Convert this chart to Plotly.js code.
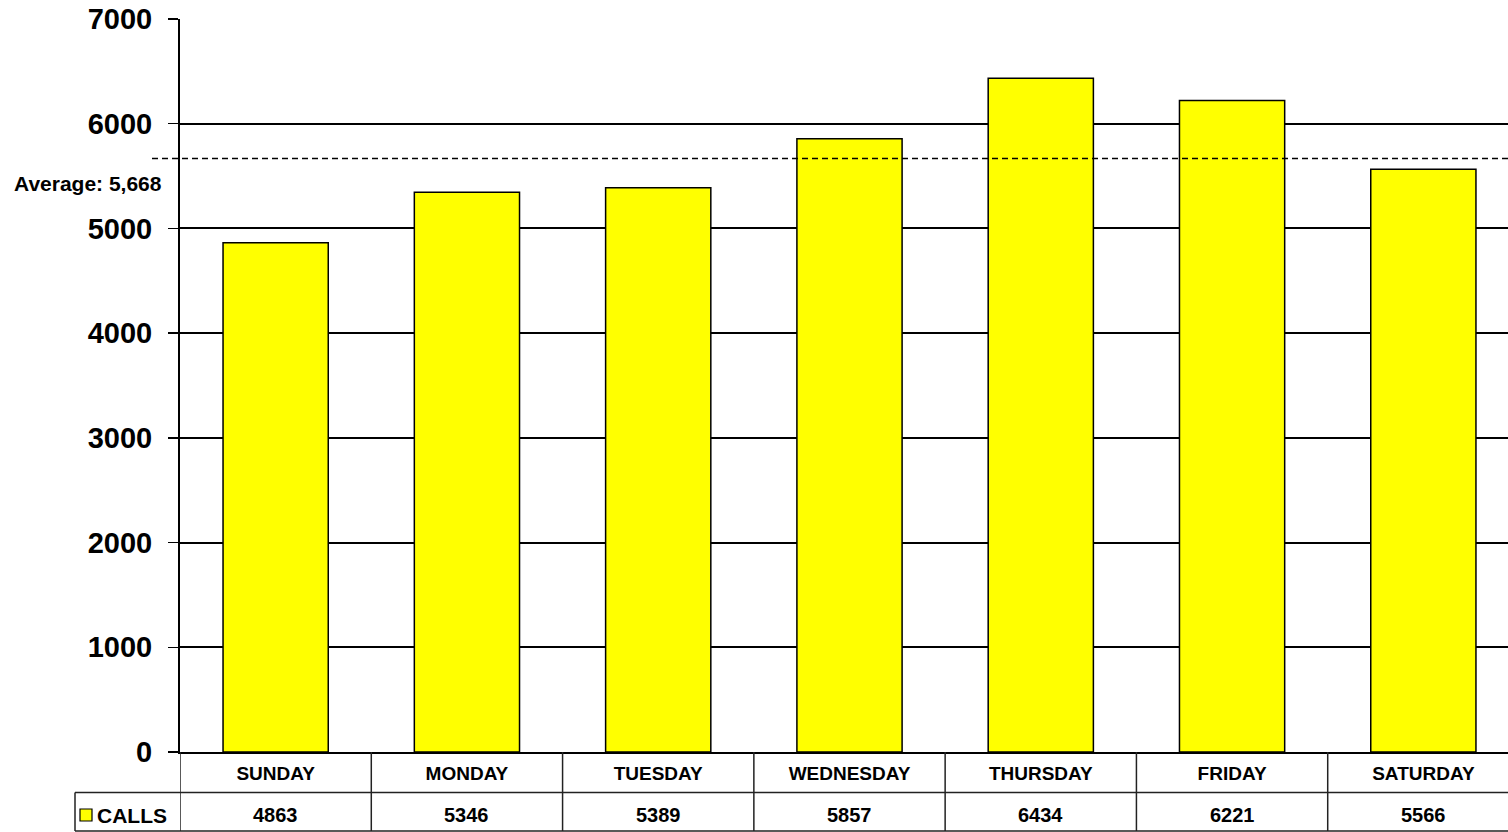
<!DOCTYPE html>
<html>
<head>
<meta charset="utf-8">
<script src="https://cdn.plot.ly/plotly-3.0.1.min.js"></script>
<style>
  html, body { margin: 0; padding: 0; background: #fff; overflow: hidden; }
  #chart { width: 1525px; height: 832px; }
</style>
</head>
<body>
<div id="chart"></div>
<script>
// ---- data ----
const days = ["SUNDAY", "MONDAY", "TUESDAY", "WEDNESDAY", "THURSDAY", "FRIDAY", "SATURDAY"];
const calls = [4863, 5346, 5389, 5857, 6434, 6221, 5566];
const seriesName = "CALLS";
const yTicks = [0, 1000, 2000, 3000, 4000, 5000, 6000, 7000];

const average = Math.round(calls.reduce((a, b) => a + b, 0) / calls.length);
const avgLabel = "Average: " + average.toLocaleString("en-US");

// ---- layout geometry (pixels) ----
const W = 1525, H = 832;
const M = { l: 180, r: 6, t: 19, b: 80 };
const plotH = H - M.t - M.b;      // 733
const plotW = W - M.l - M.r;      // 1339
const zeroPx = M.t + plotH;       // 752
const py = p => (zeroPx - p) / plotH;         // pixel y -> paper y
const px = p => (p - M.l) / plotW;            // pixel x -> paper x

const FONT = "Liberation Sans, Arial, sans-serif";
const lineCol = "#222";

const shapes = [];
// table horizontal lines
shapes.push({ type: "line", xref: "paper", yref: "paper", x0: px(75), x1: 1.05, y0: py(792.5), y1: py(792.5), line: { color: lineCol, width: 1.5 } });
shapes.push({ type: "line", xref: "paper", yref: "paper", x0: px(75), x1: 1.05, y0: py(831), y1: py(831), line: { color: lineCol, width: 1.5 } });
// left edge of legend cell
shapes.push({ type: "line", xref: "paper", yref: "paper", x0: px(75), x1: px(75), y0: py(792.5), y1: py(831), line: { color: lineCol, width: 1.5 } });
// column dividers
for (let i = 0; i <= days.length; i++) {
  shapes.push({ type: "line", xref: "x", yref: "paper", x0: i - 0.5, x1: i - 0.5, y0: 0, y1: py(831), line: { color: lineCol, width: 1.5 } });
}
// average dashed line
shapes.push({ type: "line", xref: "paper", yref: "y", x0: px(152), x1: 1.05, y0: average, y1: average, line: { color: "#000", width: 1.5, dash: "6px,4px" } });
// legend key
shapes.push({ type: "rect", xref: "paper", yref: "paper", x0: px(80), x1: px(92), y0: py(821), y1: py(809), fillcolor: "#FFFF00", line: { color: "#000", width: 1.2 } });

const annotations = [];
annotations.push({ xref: "paper", yref: "y", x: px(164), y: average, yshift: -25, xanchor: "right", yanchor: "middle", text: "<b>" + avgLabel + "</b>", showarrow: false, font: { family: FONT, size: 21, color: "#000" } });
annotations.push({ xref: "paper", yref: "paper", x: px(95), y: py(815), xanchor: "left", yanchor: "middle", text: "<b>" + seriesName + "</b>", showarrow: false, font: { family: FONT, size: 21, color: "#000" } });
days.forEach((d, i) => {
  annotations.push({ xref: "x", yref: "paper", x: d, y: py(815), xanchor: "center", yanchor: "middle", text: "<b>" + calls[i] + "</b>", showarrow: false, font: { family: FONT, size: 20, color: "#000" } });
});

const trace = {
  type: "bar",
  x: days,
  y: calls,
  name: seriesName,
  width: 0.55,
  marker: { color: "#FFFF00", line: { color: "#000", width: 1.5 } },
  hoverinfo: "x+y"
};

const layout = {
  width: W, height: H,
  margin: M,
  paper_bgcolor: "#fff",
  plot_bgcolor: "#fff",
  showlegend: false,
  font: { family: FONT, color: "#000" },
  xaxis: {
    type: "category",
    range: [-0.5, days.length - 0.5],
    showgrid: false,
    zeroline: false,
    showline: true, linecolor: "#000", linewidth: 2,
    ticks: "",
    tickfont: { family: FONT, size: 19, color: "#000" },
    ticklabelstandoff: 3,
    tickprefix: "<b>", ticksuffix: "</b>",
    fixedrange: true
  },
  yaxis: {
    range: [0, 7000],
    tickvals: yTicks,
    ticktext: yTicks.map(v => "<b>" + v + "</b>"),
    showgrid: true, gridcolor: "#000", gridwidth: 2,
    zeroline: false,
    showline: true, linecolor: "#000", linewidth: 2,
    ticks: "outside", ticklen: 10, tickwidth: 1.5, tickcolor: "#000",
    tickfont: { family: FONT, size: 29, color: "#000" },
    ticklabelstandoff: 10,
    fixedrange: true
  },
  shapes: shapes,
  annotations: annotations
};

Plotly.newPlot("chart", [trace], layout, { displayModeBar: false, staticPlot: true });
</script>
</body>
</html>
